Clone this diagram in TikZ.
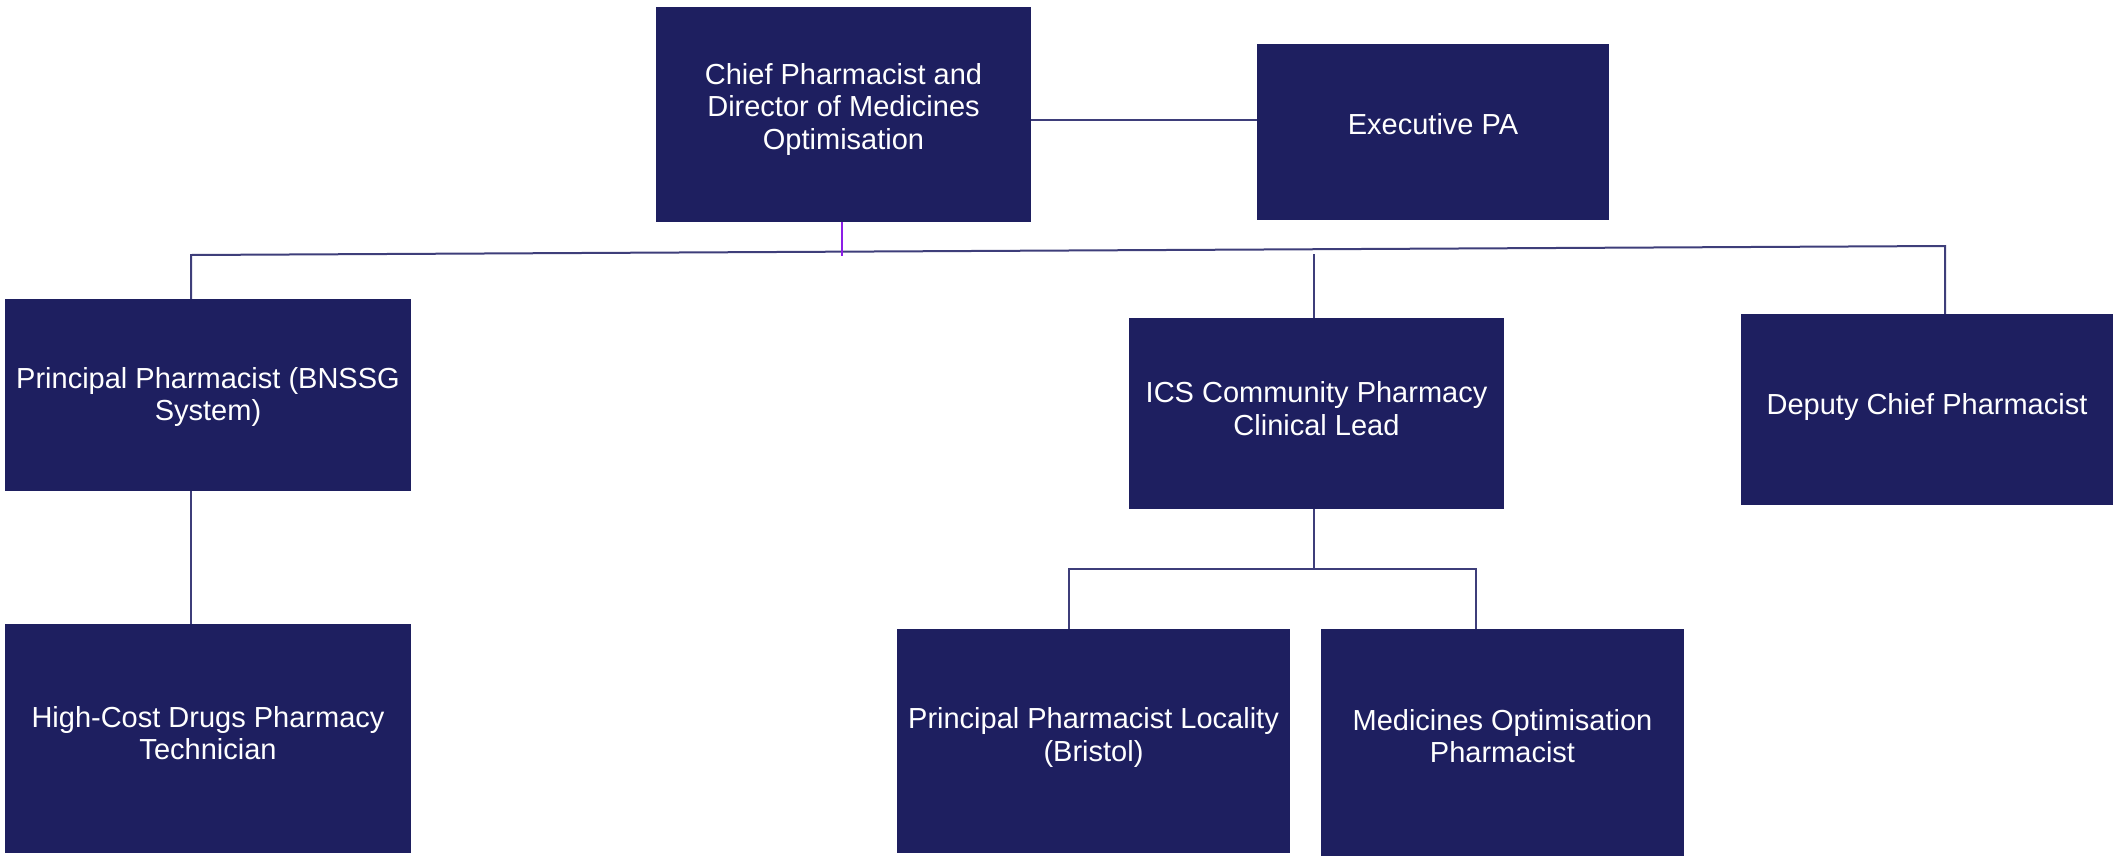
\documentclass[tikz,border=0pt]{standalone}
\usepackage{fontspec}
\setmainfont{Liberation Sans}
\usepackage{tikz}
\usepackage{xcolor}
\usetikzlibrary{positioning}
\definecolor{navybox}{RGB}{30,31,96}
\definecolor{linkline}{RGB}{62,62,122}
\definecolor{linkpurple}{RGB}{140,30,230}
\tikzstyle{role} = [rectangle, fill=navybox, text=white, align=center, inner sep=0pt, text height=20.8pt, font=\fontsize{29}{32.5}\selectfont]
\tikzstyle{twolines} = [text height=53.3pt]
\tikzstyle{link} = [draw=linkline, line width=2pt]

\begin{document}
\begin{tikzpicture}[x=1pt, y=-1pt]
        \useasboundingbox (0,0) rectangle (2113,857);
        \node (chief) [role, text height=85.8pt, text depth=16pt, minimum width=375pt, minimum height=215pt] at (843.5,114.5) {Chief Pharmacist and\\Director of Medicines\\Optimisation};
        \node (exec_pa) [role, text depth=16pt, minimum width=352pt, minimum height=176pt] at (1433,132) {Executive PA};
        \node (principal_bnssg) [role, text height=51.3pt, text depth=0pt, minimum width=406pt, minimum height=192pt] at (208,395) {Principal Pharmacist (BNSSG\\System)};
        \node (ics_lead) [role, twolines, text depth=10pt, minimum width=375pt, minimum height=191pt] at (1316.5,413.5) {ICS Community Pharmacy\\Clinical Lead};
        \node (deputy) [role, text depth=10pt, minimum width=372pt, minimum height=191pt] at (1927,409.5) {Deputy Chief Pharmacist};
        \node (hcd_tech) [role, twolines, text depth=11pt, minimum width=406pt, minimum height=229pt] at (208,738.5) {High-Cost Drugs Pharmacy\\Technician};
        \node (locality) [role, twolines, text depth=13pt, minimum width=393pt, minimum height=224pt] at (1093.5,741) {Principal Pharmacist Locality\\(Bristol)};
        \node (mo_pharm) [role, twolines, text depth=13pt, minimum width=363pt, minimum height=227pt] at (1502.5,742.5) {Medicines Optimisation\\Pharmacist};

        \coordinate (pa_level) at (0,120);
        \coordinate (bus_left) at (191,255);
        \coordinate (bus_right) at (1945,246);
        \coordinate (chief_drop) at (842,256);
        \coordinate (ics_top) at (1314,254);
        \coordinate (sub_left) at (1069,569);
        \coordinate (sub_right) at (1476,569);

        \draw [link] (chief.east |- pa_level) -- (exec_pa.west |- pa_level);
        \draw [link] (bus_left |- principal_bnssg.north) -- (bus_left) -- (bus_right) -- (bus_right |- deputy.north);
        \draw [link, draw=linkpurple] (chief.south -| chief_drop) -- (chief_drop);
        \draw [link] (ics_top) -- (ics_top |- ics_lead.north);
        \draw [link] (bus_left |- principal_bnssg.south) -- (bus_left |- hcd_tech.north);
        \draw [link] (ics_top |- ics_lead.south) -- (ics_top |- sub_left);
        \draw [link] (sub_left |- locality.north) -- (sub_left) -- (sub_right) -- (sub_right |- mo_pharm.north);
    \end{tikzpicture}
\end{document}
